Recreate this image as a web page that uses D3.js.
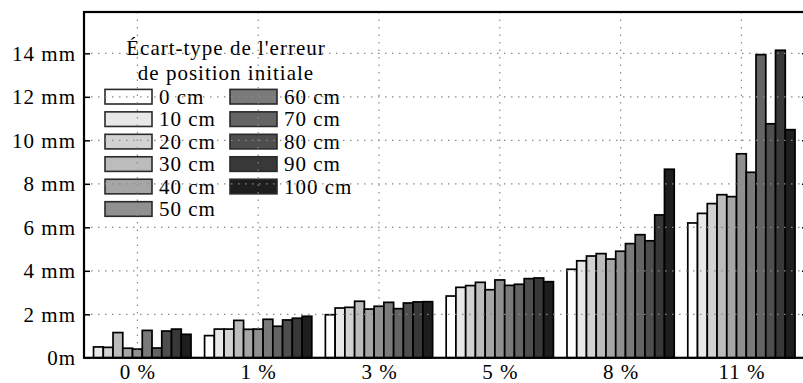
<!DOCTYPE html>
<html>
<head>
<meta charset="utf-8">
<script src="https://cdn.jsdelivr.net/npm/d3@7"></script>
<style>
  html, body { margin: 0; padding: 0; background: #fff; }
  svg { display: block; }
  text { font-family: "Liberation Serif", "Times New Roman", serif; fill: #000; }
</style>
</head>
<body>
<svg id="chart" width="803" height="383"></svg>
<script>
// ---- data ----
const groups = ["0 %", "1 %", "3 %", "5 %", "8 %", "11 %"];
const series = ["0 cm", "10 cm", "20 cm", "30 cm", "40 cm", "50 cm",
                "60 cm", "70 cm", "80 cm", "90 cm", "100 cm"];
// values in mm, one array per series, ordered as groups
const v0cm   = [0.00, 1.02, 1.98, 2.84, 4.07, 6.20];
const v10cm  = [0.50, 1.32, 2.29, 3.24, 4.46, 6.64];
const v20cm  = [0.48, 1.32, 2.32, 3.32, 4.68, 7.09];
const v30cm  = [1.16, 1.72, 2.60, 3.47, 4.79, 7.50];
const v40cm  = [0.44, 1.31, 2.24, 3.13, 4.54, 7.41];
const v50cm  = [0.40, 1.32, 2.37, 3.58, 4.90, 9.38];
const v60cm  = [1.26, 1.77, 2.55, 3.33, 5.25, 8.53];
const v70cm  = [0.45, 1.45, 2.26, 3.38, 5.66, 13.94];
const v80cm  = [1.23, 1.74, 2.52, 3.64, 5.38, 10.76];
const v90cm  = [1.32, 1.82, 2.57, 3.67, 6.57, 14.14];
const v100cm = [1.08, 1.91, 2.58, 3.50, 8.67, 10.49];
const seriesValues = [v0cm, v10cm, v20cm, v30cm, v40cm, v50cm,
                      v60cm, v70cm, v80cm, v90cm, v100cm];
const yTicks = [0, 2, 4, 6, 8, 10, 12, 14];
const yTickLabels = ["0m", "2 mm", "4 mm", "6 mm", "8 mm", "10 mm", "12 mm", "14 mm"];
const legendTitle = ["Écart-type de l'erreur", "de position initiale"];

// ---- styles ----
const fills = ["#ffffff", "#e8e8e8", "#d2d2d2", "#bcbcbc", "#a6a6a6", "#909090",
               "#7a7a7a", "#646464", "#4e4e4e", "#383838", "#1e1e1e"];
const FONT = 21;

const svg = d3.select("#chart");
const L = 84, R = 808, T = 12, B = 357.8;

const y = d3.scaleLinear().domain([0, 15.9]).range([B, T]).clamp(true);
const xg = d3.scaleLinear().domain([0, groups.length - 1]).range([137.4, 741.4]);
const barW = 9.75;
const xs = d3.scaleBand().domain(series).range([-5.5 * barW, 5.5 * barW]).padding(0);

// ---- bars ----
const rows = [];
seriesValues.forEach((arr, si) => arr.forEach((v, gi) => rows.push({ si, gi, v })));
svg.append("g").selectAll("rect")
  .data(rows.filter(d => y(d.v) < B))
  .join("rect")
  .attr("x", d => xg(d.gi) + xs(series[d.si]))
  .attr("width", xs.bandwidth())
  .attr("y", d => y(d.v))
  .attr("height", d => B - y(d.v))
  .attr("fill", d => fills[d.si])
  .attr("stroke", "#000")
  .attr("stroke-width", 1.7);

// ---- legend ----
const lg = svg.append("g").attr("font-size", FONT).attr("letter-spacing", "1px");
lg.selectAll("text.title").data(legendTitle).join("text")
  .attr("class", "title")
  .attr("x", 226).attr("y", (d, i) => 55 + i * 25)
  .attr("text-anchor", "middle")
  .text(d => d);
const perCol = 6;
const items = lg.selectAll("g.item").data(series).join("g")
  .attr("class", "item")
  .attr("transform", (d, i) => `translate(${i < perCol ? 105 : 230},${96.7 + (i % perCol) * 22.46})`);
items.append("rect")
  .attr("x", 0).attr("y", -7.3).attr("width", 47).attr("height", 14.6)
  .attr("fill", (d, i) => fills[i])
  .attr("stroke", "#2a2a2a").attr("stroke-width", 1.6);
items.append("text")
  .attr("x", 54).attr("y", 7)
  .text(d => d);

// ---- grid (drawn in front) ----
const grid = svg.append("g").attr("stroke", "#8a8a8a").attr("stroke-width", 1.2);
grid.selectAll("line.h").data(yTicks.filter(t => t > 0)).join("line")
  .attr("class", "h")
  .attr("x1", L).attr("x2", R)
  .attr("y1", d => y(d)).attr("y2", d => y(d))
  .attr("stroke-dasharray", "1.5,5.5");
grid.selectAll("line.v").data(groups.map((g, i) => i)).join("line")
  .attr("class", "v")
  .attr("x1", d => xg(d)).attr("x2", d => xg(d))
  .attr("y1", T).attr("y2", B)
  .attr("stroke-dasharray", "1.5,6");

// ---- axes ----
const yAxisL = d3.axisLeft(y).tickValues(yTicks)
  .tickFormat((d, i) => yTickLabels[i])
  .tickSizeInner(-6).tickSizeOuter(0).tickPadding(8);
const gl = svg.append("g").attr("transform", `translate(${L},0)`).call(yAxisL);
gl.select(".domain").remove();
gl.selectAll("line").attr("stroke", "#000").attr("stroke-width", 1.5);
gl.selectAll("text").attr("font-size", FONT).attr("letter-spacing", "1px")
  .attr("font-family", "Liberation Serif, serif").attr("fill", "#000");

const yAxisR = d3.axisRight(y).tickValues(yTicks).tickFormat("")
  .tickSizeInner(-6).tickSizeOuter(0);
const gr = svg.append("g").attr("transform", `translate(${R},0)`).call(yAxisR);
gr.select(".domain").remove();
gr.selectAll("line").attr("stroke", "#000").attr("stroke-width", 1.5);

const xAxis = d3.axisBottom(xg).tickValues(groups.map((g, i) => i))
  .tickFormat((d, i) => groups[i]).tickSize(0).tickPadding(6);
const gx = svg.append("g").attr("transform", `translate(0,${B})`).call(xAxis);
gx.select(".domain").remove();
gx.selectAll("text").attr("font-size", FONT).attr("letter-spacing", "1px")
  .attr("font-family", "Liberation Serif, serif").attr("fill", "#000");

// ---- border ----
svg.append("rect")
  .attr("x", L).attr("y", T).attr("width", R - L).attr("height", B - T)
  .attr("fill", "none").attr("stroke", "#000").attr("stroke-width", 2.2);
</script>
</body>
</html>
